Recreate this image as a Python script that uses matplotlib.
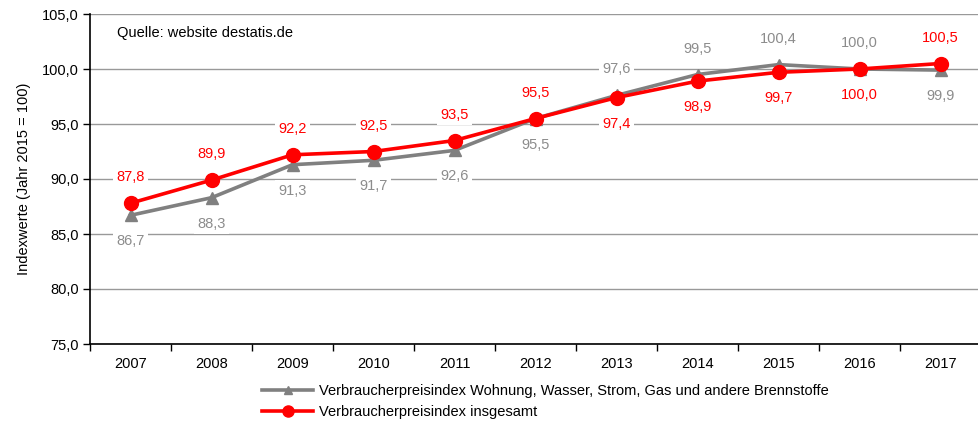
import numpy as np
import matplotlib
matplotlib.use('Agg')
import matplotlib.pyplot as plt
from matplotlib.ticker import FixedLocator, FuncFormatter

# Data
years = ['2007', '2008', '2009', '2010', '2011', '2012', '2013', '2014', '2015', '2016', '2017']
wohnung = [86.7, 88.3, 91.3, 91.7, 92.6, 95.5, 97.6, 99.5, 100.4, 100.0, 99.9]
gesamt = [87.8, 89.9, 92.2, 92.5, 93.5, 95.5, 97.4, 98.9, 99.7, 100.0, 100.5]

# label above (+1) or below (-1) the point
wohnung_side = [-1, -1, -1, -1, -1, -1, 1, 1, 1, 1, -1]
gesamt_side = [1, 1, 1, 1, 1, 1, -1, -1, -1, -1, 1]

plt.rcParams['font.family'] = ['Liberation Sans', 'DejaVu Sans']

RED = '#ff0000'
GREY = '#808080'

fig = plt.figure(figsize=(9.79, 4.21), dpi=100)
ax = fig.add_axes([90 / 979, 77 / 421, 891 / 979, 330 / 421])

x = np.arange(len(years))
ax.plot(x, wohnung, color=GREY, lw=2.6, marker='^', ms=8, zorder=3,
        label='Verbraucherpreisindex Wohnung, Wasser, Strom, Gas und andere Brennstoffe')
ax.plot(x, gesamt, color=RED, lw=2.6, marker='o', ms=10, zorder=4,
        label='Verbraucherpreisindex insgesamt')

# data labels with white background (they cut the gridlines)
def fmt(v):
    return f'{v:.1f}'.replace('.', ',')

for xi, v, s in zip(x, wohnung, wohnung_side):
    ax.annotate(fmt(v), (xi, v), xytext=(0, 26 * s), textcoords='offset pixels',
                ha='center', va='center', fontsize=10.5, color='#8c8c8c', zorder=5,
                bbox=dict(boxstyle='square,pad=0.25', fc='white', ec='none'))
for xi, v, s in zip(x, gesamt, gesamt_side):
    ax.annotate(fmt(v), (xi, v), xytext=(0, 26 * s), textcoords='offset pixels',
                ha='center', va='center', fontsize=10.5, color=RED, zorder=5,
                bbox=dict(boxstyle='square,pad=0.25', fc='white', ec='none'))

ax.set_xlim(-0.5, len(years) - 0.5)
ax.set_ylim(75, 105)
ax.set_yticks(np.arange(75, 105.1, 5))
ax.yaxis.set_major_formatter(FuncFormatter(lambda v, p: fmt(v)))
ax.set_xticks(x)
ax.set_xticklabels(years)
ax.xaxis.set_minor_locator(FixedLocator(np.arange(-0.5, len(years), 1)))
ax.tick_params(axis='x', which='major', length=0, pad=9, labelsize=10.5, colors='black')
ax.tick_params(axis='x', which='minor', length=5, width=1, direction='out')
ax.tick_params(axis='y', length=5, width=1, labelsize=10.5, pad=3)

ax.grid(axis='y', color='#999999', lw=1)
ax.set_axisbelow(True)
for side in ['top', 'right']:
    ax.spines[side].set_visible(False)
ax.spines['left'].set_linewidth(1.2)
ax.spines['bottom'].set_linewidth(1.2)

ax.set_ylabel('Indexwerte (Jahr 2015 = 100)', fontsize=10.5, labelpad=8)

ax.text(117 / 979, 1 - 33 / 421, 'Quelle: website destatis.de', transform=fig.transFigure,
        fontsize=10.5, va='center', ha='left')

fig.legend(loc='upper left', bbox_to_anchor=(262 / 979, 1 - 384 / 421), frameon=False,
           fontsize=10.5, handlelength=3.5, handletextpad=0.4, labelspacing=0.5,
           markerscale=0.8, borderpad=0, borderaxespad=0)

fig.savefig('out.png', dpi=100)
